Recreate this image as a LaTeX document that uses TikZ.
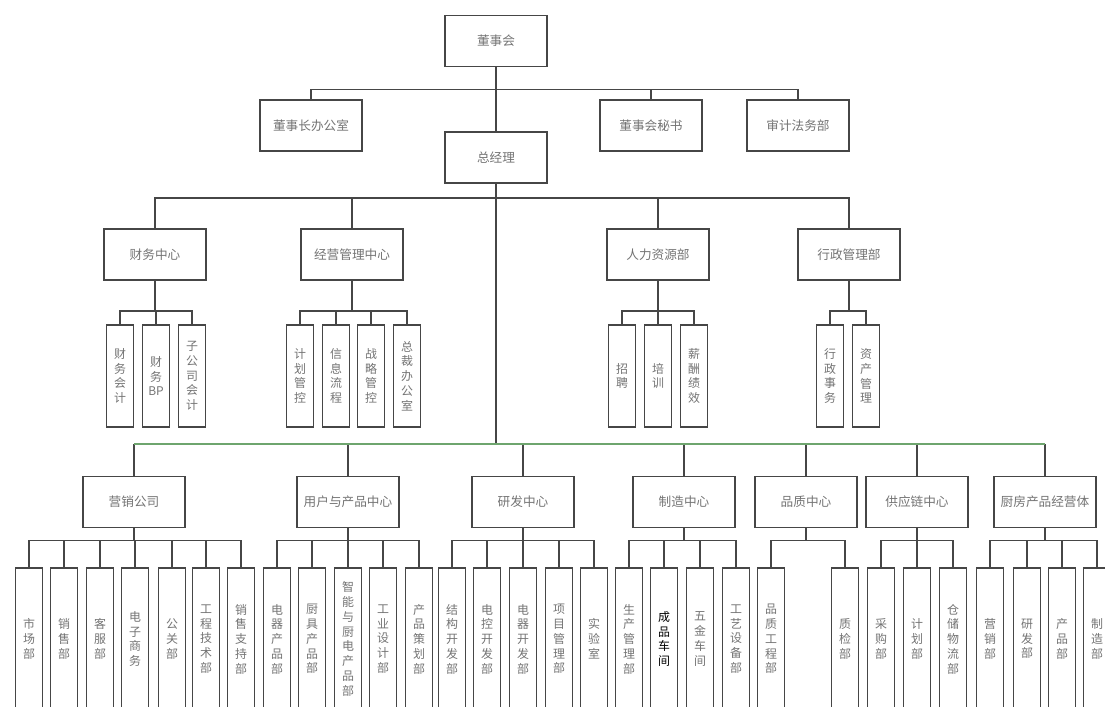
\documentclass[tikz,border=0pt]{standalone}
\usepackage{fontspec}
\setmainfont{Noto Sans CJK SC}
\definecolor{linegray}{RGB}{70,70,70}
\definecolor{textgray}{RGB}{115,115,115}
\definecolor{busgreen}{RGB}{110,165,110}
\tikzset{
  unit/.style={
    rectangle,
    draw=linegray, line width=1.3pt,
    minimum width=2.55cm,
    minimum height=1.275cm,
    inner sep=1pt,
    text=textgray,
    font=\fontsize{9}{10}\selectfont,
    align=center,
  },
  post/.style={
    rectangle,
    draw=linegray, line width=1.3pt,
    minimum width=0.675cm,
    minimum height=2.55cm,
    inner sep=1pt,
    text=textgray,
    font=\fontsize{8.5}{10.5}\selectfont,
    align=center,
  },
  longpost/.style={post, minimum height=3.55cm},
  link/.style={draw=linegray, line width=1.1pt},
}

\begin{document}
\begin{tikzpicture}[x=0.025cm,y=-0.025cm]
  \useasboundingbox (0,0) rectangle (1105,707);

  % top levels
  \node[unit] (dsh) at (496,41) {董事会};
  \node[unit] (dszb) at (311,125.5) {董事长办公室};
  \node[unit] (dshms) at (651,125.5) {董事会秘书};
  \node[unit] (sjfw) at (798,125.5) {审计法务部};
  \node[unit] (zjl) at (496,157.5) {总经理};

  \draw[link] (dsh.south) -- (zjl.north);
  \draw[link] (dsh.south) -- ++(0,22) -| (dszb.north);
  \draw[link] (dsh.south) -- ++(0,22) -| (dshms.north);
  \draw[link] (dsh.south) -- ++(0,22) -| (sjfw.north);

  \coordinate (bus3) at (496,198);
  \coordinate (bus4) at (496,444);
  \draw[link] (zjl.south) -- (bus4);

  % functional centres
  \node[unit] (cwzx) at (155,254.5) {财务中心};
  \node[unit] (jygl) at (352,254.5) {经营管理中心};
  \node[unit] (rlzy) at (658,254.5) {人力资源部};
  \node[unit] (xzgl) at (849,254.5) {行政管理部};

  \draw[link] (bus3) -| (cwzx.north);
  \draw[link] (bus3) -| (jygl.north);
  \draw[link] (bus3) -| (rlzy.north);
  \draw[link] (bus3) -| (xzgl.north);

  \node[post] (cw1) at (120,376) {财\\务\\会\\计};
  \node[post] (cw2) at (156,376) {财\\务\\BP};
  \node[post] (cw3) at (192,376) {子\\公\\司\\会\\计};
  \draw[link] (cwzx.south) -- ++(0,30) -| (cw1.north);
  \draw[link] (cwzx.south) -- ++(0,30) -| (cw2.north);
  \draw[link] (cwzx.south) -- ++(0,30) -| (cw3.north);

  \node[post] (jy1) at (300,376) {计\\划\\管\\控};
  \node[post] (jy2) at (336,376) {信\\息\\流\\程};
  \node[post] (jy3) at (371,376) {战\\略\\管\\控};
  \node[post] (jy4) at (407,376) {总\\裁\\办\\公\\室};
  \draw[link] (jygl.south) -- ++(0,30) -| (jy1.north);
  \draw[link] (jygl.south) -- ++(0,30) -| (jy2.north);
  \draw[link] (jygl.south) -- ++(0,30) -| (jy3.north);
  \draw[link] (jygl.south) -- ++(0,30) -| (jy4.north);

  \node[post] (rl1) at (622,376) {招\\聘};
  \node[post] (rl2) at (658,376) {培\\训};
  \node[post] (rl3) at (694,376) {薪\\酬\\绩\\效};
  \draw[link] (rlzy.south) -- ++(0,30) -| (rl1.north);
  \draw[link] (rlzy.south) -- ++(0,30) -| (rl2.north);
  \draw[link] (rlzy.south) -- ++(0,30) -| (rl3.north);

  \node[post] (xz1) at (830,376) {行\\政\\事\\务};
  \node[post] (xz2) at (866,376) {资\\产\\管\\理};
  \draw[link] (xzgl.south) -- ++(0,30) -| (xz1.north);
  \draw[link] (xzgl.south) -- ++(0,30) -| (xz2.north);

  % business centres
  \node[unit] (yxgs) at (134,502) {营销公司};
  \node[unit] (yhcp) at (348,502) {用户与产品中心};
  \node[unit] (yfzx) at (523,502) {研发中心};
  \node[unit] (zzzx) at (684,502) {制造中心};
  \node[unit] (pzzx) at (806,502) {品质中心};
  \node[unit] (gylzx) at (917,502) {供应链中心};
  \node[unit] (jyt) at (1045,502) {厨房产品经营体};

  \foreach \c in {yxgs,yhcp,yfzx,zzzx,pzzx,gylzx,jyt}
    \draw[link] (\c.north) -- (\c.north |- bus4);
  \draw[draw=busgreen, line width=0.9pt] (yxgs.north |- bus4) -- (jyt.north |- bus4);

  \node[longpost] (yx1) at (29,639) {市\\场\\部};
  \node[longpost] (yx2) at (64,639) {销\\售\\部};
  \node[longpost] (yx3) at (100,639) {客\\服\\部};
  \node[longpost] (yx4) at (135,639) {电\\子\\商\\务};
  \node[longpost] (yx5) at (172,639) {公\\关\\部};
  \node[longpost] (yx6) at (206,639) {工\\程\\技\\术\\部};
  \node[longpost] (yx7) at (241,639) {销\\售\\支\\持\\部};
  \draw[link] (yxgs.south) -- ++(0,12) -| (yx1.north);
  \draw[link] (yxgs.south) -- ++(0,12) -| (yx2.north);
  \draw[link] (yxgs.south) -- ++(0,12) -| (yx3.north);
  \draw[link] (yxgs.south) -- ++(0,12) -| (yx4.north);
  \draw[link] (yxgs.south) -- ++(0,12) -| (yx5.north);
  \draw[link] (yxgs.south) -- ++(0,12) -| (yx6.north);
  \draw[link] (yxgs.south) -- ++(0,12) -| (yx7.north);

  \node[longpost] (yh1) at (277,639) {电\\器\\产\\品\\部};
  \node[longpost] (yh2) at (312,639) {厨\\具\\产\\品\\部};
  \node[longpost] (yh3) at (348,639) {智\\能\\与\\厨\\电\\产\\品\\部};
  \node[longpost] (yh4) at (383,639) {工\\业\\设\\计\\部};
  \node[longpost] (yh5) at (419,639) {产\\品\\策\\划\\部};
  \draw[link] (yhcp.south) -- ++(0,12) -| (yh1.north);
  \draw[link] (yhcp.south) -- ++(0,12) -| (yh2.north);
  \draw[link] (yhcp.south) -- ++(0,12) -| (yh3.north);
  \draw[link] (yhcp.south) -- ++(0,12) -| (yh4.north);
  \draw[link] (yhcp.south) -- ++(0,12) -| (yh5.north);

  \node[longpost] (yf1) at (452,639) {结\\构\\开\\发\\部};
  \node[longpost] (yf2) at (487,639) {电\\控\\开\\发\\部};
  \node[longpost] (yf3) at (523,639) {电\\器\\开\\发\\部};
  \node[longpost] (yf4) at (559,639) {项\\目\\管\\理\\部};
  \node[longpost] (yf5) at (594,639) {实\\验\\室};
  \draw[link] (yfzx.south) -- ++(0,12) -| (yf1.north);
  \draw[link] (yfzx.south) -- ++(0,12) -| (yf2.north);
  \draw[link] (yfzx.south) -- ++(0,12) -| (yf3.north);
  \draw[link] (yfzx.south) -- ++(0,12) -| (yf4.north);
  \draw[link] (yfzx.south) -- ++(0,12) -| (yf5.north);

  \node[longpost] (zz1) at (629,639) {生\\产\\管\\理\\部};
  \node[longpost, text=black] (zz2) at (664,639) {成\\品\\车\\间};
  \node[longpost] (zz3) at (700,639) {五\\金\\车\\间};
  \node[longpost] (zz4) at (736,639) {工\\艺\\设\\备\\部};
  \draw[link] (zzzx.south) -- ++(0,12) -| (zz1.north);
  \draw[link] (zzzx.south) -- ++(0,12) -| (zz2.north);
  \draw[link] (zzzx.south) -- ++(0,12) -| (zz3.north);
  \draw[link] (zzzx.south) -- ++(0,12) -| (zz4.north);

  \node[longpost] (pz1) at (771,639) {品\\质\\工\\程\\部};
  \node[longpost] (pz2) at (845,639) {质\\检\\部};
  \draw[link] (pzzx.south) -- ++(0,12) -| (pz1.north);
  \draw[link] (pzzx.south) -- ++(0,12) -| (pz2.north);

  \node[longpost] (gy1) at (881,639) {采\\购\\部};
  \node[longpost] (gy2) at (917,639) {计\\划\\部};
  \node[longpost] (gy3) at (953,639) {仓\\储\\物\\流\\部};
  \draw[link] (gylzx.south) -- ++(0,12) -| (gy1.north);
  \draw[link] (gylzx.south) -- ++(0,12) -| (gy2.north);
  \draw[link] (gylzx.south) -- ++(0,12) -| (gy3.north);

  \node[longpost] (jt1) at (990,639) {营\\销\\部};
  \node[longpost] (jt2) at (1027,639) {研\\发\\部};
  \node[longpost] (jt3) at (1062,639) {产\\品\\部};
  \node[longpost] (jt4) at (1097,639) {制\\造\\部};
  \draw[link] (jyt.south) -- ++(0,12) -| (jt1.north);
  \draw[link] (jyt.south) -- ++(0,12) -| (jt2.north);
  \draw[link] (jyt.south) -- ++(0,12) -| (jt3.north);
  \draw[link] (jyt.south) -- ++(0,12) -| (jt4.north);
\end{tikzpicture}
\end{document}
